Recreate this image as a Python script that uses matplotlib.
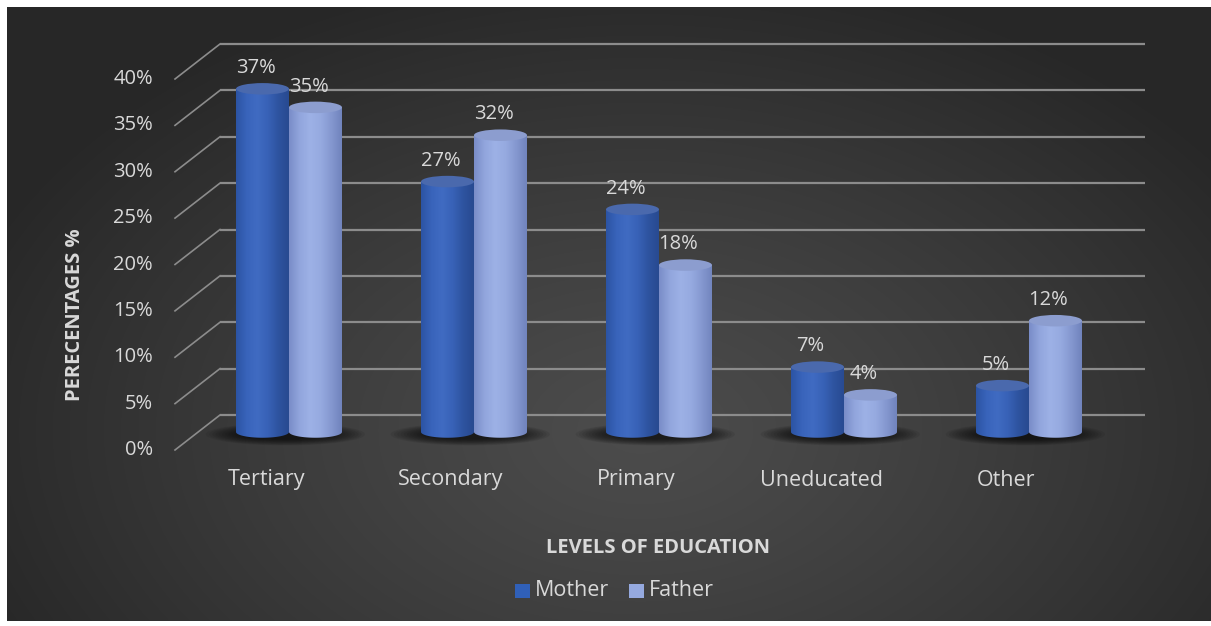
import numpy as np
import matplotlib
matplotlib.use("Agg")
import matplotlib.pyplot as plt
from matplotlib.patches import Ellipse, PathPatch, Rectangle
from matplotlib.path import Path
from matplotlib.lines import Line2D
from matplotlib.transforms import ScaledTranslation, IdentityTransform

# data
categories = ["Tertiary", "Secondary", "Primary", "Uneducated", "Other"]
mother = [37, 27, 24, 7, 5]
father = [35, 32, 18, 4, 12]
series_names = ["Mother", "Father"]
yticks = [0, 5, 10, 15, 20, 25, 30, 35, 40]

plt.rcParams['font.family'] = ['Open Sans', 'DejaVu Sans']
TXT = '#d9d9d9'
W, H = 1211, 626

fig = plt.figure(figsize=(W / 100, H / 100), dpi=100)
fig.patch.set_facecolor('white')

# dark radial background
bg = fig.add_axes([0, 0, 1, 1], zorder=0)
yy, xx = np.mgrid[0:H, 0:W]
r = np.sqrt(((xx - 640) / 720.0) ** 2 + ((yy - 430) / 470.0) ** 2)
v = 0x4c - (0x4c - 0x27) * np.clip(r, 0, 1) ** 1.2
img = np.dstack([v, v, v]) / 255.0
img[:7, :, :] = 1.0
img[:, :7, :] = 1.0
img[621:, :, :] = 1.0
bg.imshow(img, extent=[0, W, H, 0], aspect='auto', interpolation='bilinear')
bg.set_xlim(0, W)
bg.set_ylim(H, 0)
bg.axis('off')


def px(x, y):
    return x / W, 1 - y / H


def off(dx, dy):
    return ScaledTranslation(dx / 100, dy / 100, fig.dpi_scale_trans)


# plotting plane (middle depth of the 3d box); y from -4 so cylinder bottoms fit
ymin, ymax = -4, 40
ppu = (432 - 61) / 40.0
ax_l, ax_r, ax_t = 175, 1145, 61
ax_b = 432 - ymin * ppu
ax = fig.add_axes([ax_l / W, (H - ax_b) / H, (ax_r - ax_l) / W, (ax_b - ax_t) / H], zorder=1)
ax.set_facecolor('none')
for s in ax.spines.values():
    s.set_visible(False)
ax.set_xticks([])
ax.set_yticks([])
cat_px = 185.0
x0 = -(289 - ax_l) / cat_px
ax.set_xlim(x0, x0 + (ax_r - ax_l) / cat_px)
ax.set_ylim(ymin, ymax)

depth_dx, back_dy, front_dy = 45, 17, -18
back_frac = depth_dx / (ax_r - ax_l)
grid_c = '#8c8c8c'
ytr = ax.get_yaxis_transform()
for t in yticks:
    # back wall line
    ax.plot([back_frac, 1], [t, t], color=grid_c, lw=1.6, transform=ytr + off(0, back_dy),
            zorder=1, clip_on=False, solid_capstyle='butt')
    # side diagonal
    p_front = ytr.transform((0, t)) + np.array([0, front_dy])
    p_back = ytr.transform((back_frac, t)) + np.array([0, back_dy])
    fig.add_artist(Line2D([p_front[0], p_back[0]], [p_front[1], p_back[1]], color=grid_c,
                          lw=1.2, transform=IdentityTransform(), zorder=1.5))
    ax.text(0, t, f"{t}%", transform=ytr + off(-22, front_dy), ha='right', va='center',
            color=TXT, fontsize=14.5)

# cylinders
bw = 53 / cat_px
eh = 11.5 / ppu
body_cols = {
    "Mother": ['#2c54a4', '#3964bb', '#406bc2', '#3862b7', '#2e54a0', '#284a91'],
    "Father": ['#7a8dc8', '#92a6dd', '#9db1e6', '#96aae0', '#8598d0', '#7184bd'],
}
leg_cols = {"Mother": '#3060b8', "Father": '#95a9df'}
top_cols = {"Mother": '#4a69ad', "Father": '#8c9dcf'}
theta = np.linspace(np.pi, 2 * np.pi, 40)

for i in range(len(categories)):
    # blurred floor shadow
    for k in range(12):
        ax.add_patch(Ellipse((i - 0.02, -0.25), 0.86 - k * 0.035, 2.4 - k * 0.12,
                             facecolor='black', edgecolor='none', alpha=0.07, zorder=2,
                             clip_on=False))
    for j, (name, vals) in enumerate(zip(series_names, [mother, father])):
        val = vals[i]
        xc = i + (j - 0.5) * bw
        xl, xr = xc - bw / 2, xc + bw / 2
        ex = xc + bw / 2 * np.cos(theta)
        ey = eh / 2 * np.sin(theta)
        verts = [(xl, val)] + list(zip(ex, ey)) + [(xr, val), (xl, val)]
        codes = [Path.MOVETO] + [Path.LINETO] * (len(verts) - 2) + [Path.CLOSEPOLY]
        clip = PathPatch(Path(verts, codes), transform=ax.transData)
        cm = matplotlib.colors.LinearSegmentedColormap.from_list(name, body_cols[name])
        grad = np.linspace(0, 1, 64)[None, :]
        im = ax.imshow(grad, cmap=cm, extent=[xl, xr, -eh, val], aspect='auto',
                       zorder=3 + j, interpolation='bilinear')
        im.set_clip_path(clip)
        ax.add_patch(Ellipse((xc, val), bw, eh, facecolor=top_cols[name], edgecolor='none',
                             zorder=3 + j + 0.5, clip_on=False))
        ax.text(xc, val + eh / 2, f"{val}%", transform=ax.transData + off(-7, 5),
                ha='center', va='bottom', color=TXT, fontsize=14.5, zorder=10)
ax.set_xlim(x0, x0 + (ax_r - ax_l) / cat_px)
ax.set_ylim(ymin, ymax)

for i, c in enumerate(categories):
    ax.text(i, 0, c, transform=ax.transData + off(-23, -48), ha='center', va='center',
            color=TXT, fontsize=15.5)

fig.text(*px(75, 315), "PERECENTAGES %", rotation=90, ha='center', va='center',
         color=TXT, fontsize=14.5, fontweight='bold')
fig.text(*px(658, 548), "LEVELS OF EDUCATION", ha='center', va='center',
         color=TXT, fontsize=14.5, fontweight='bold')

# legend
leg_x = [515, 629]
for name, lx in zip(series_names, leg_x):
    fx, fy = px(lx, 598)
    fig.add_artist(Rectangle((fx, fy), 15 / W, 14 / H, transform=fig.transFigure,
                             facecolor=leg_cols[name], edgecolor='none'))
    fig.text(*px(lx + 20, 591), name, ha='left', va='center', color=TXT, fontsize=15.5)

fig.savefig('out.png', dpi=100, facecolor='white')
